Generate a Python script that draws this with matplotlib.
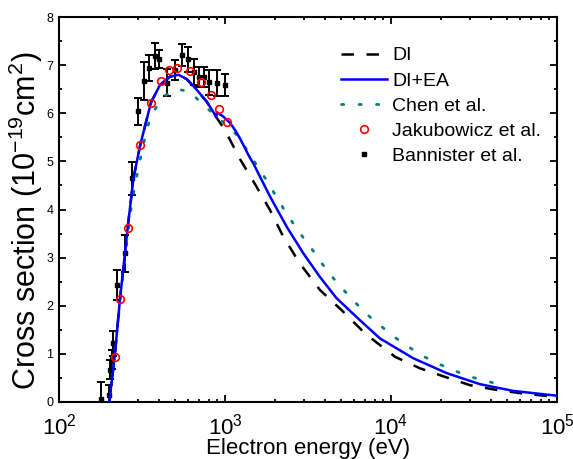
import matplotlib
matplotlib.use("Agg")
import matplotlib.pyplot as plt
from matplotlib.lines import Line2D
from matplotlib.ticker import LogLocator, MultipleLocator, NullFormatter

plt.rcParams['font.family'] = ['Liberation Sans', 'DejaVu Sans']
plt.rcParams['mathtext.fontset'] = 'custom'
plt.rcParams['mathtext.rm'] = 'Liberation Sans'
plt.rcParams['mathtext.it'] = 'Liberation Sans:italic'
plt.rcParams['mathtext.bf'] = 'Liberation Sans:bold'

# ---- data ----
di_ea_E = [201, 209, 217, 233, 259, 281, 308, 358, 406, 466, 524, 588, 675, 776, 860, 885,
           895, 977, 1072, 1150, 1230, 1400, 1480, 1867, 2355, 2963, 3728, 4690, 6500,
           8590, 13600, 21660, 34360, 54600, 100000]
di_ea_y = [0.0, 0.5, 0.97, 2.14, 3.61, 4.65, 5.33, 6.22, 6.59, 6.76, 6.80, 6.71, 6.49, 6.24, 6.00, 5.92,
           6.02, 5.93, 5.80, 5.65, 5.48, 5.10, 4.96, 4.27, 3.64, 3.09, 2.60, 2.16, 1.70,
           1.32, 0.91, 0.60, 0.37, 0.23, 0.13]

di_E = [201, 209, 217, 233, 259, 281, 308, 358, 406, 466, 524, 588, 675, 776, 860, 885,
        1000, 1230, 1545, 1867, 2240, 2822, 3728, 5000, 7000, 10570, 14950, 21660, 29900,
        43300, 61200, 86700, 100000]
di_y = [0.0, 0.5, 0.97, 2.14, 3.61, 4.65, 5.33, 6.22, 6.59, 6.76, 6.80, 6.71, 6.49, 6.24, 6.00, 5.92,
        5.65, 5.05, 4.48, 3.99, 3.44, 2.88, 2.33, 1.92, 1.42, 0.94, 0.70, 0.51, 0.35,
        0.25, 0.18, 0.125, 0.11]

chen_E = [200, 203, 226, 242, 268, 286, 305, 337, 361, 425, 512, 615, 740, 880, 1204, 1380,
          1610, 1824, 2090, 2395, 2822, 3260, 3830, 4500, 5400, 7000, 10180, 12580, 15440,
          19100, 23500, 28800, 35500, 44300]
chen_y = [0.0, 0.1, 1.64, 2.57, 3.89, 4.48, 4.96, 5.65, 5.97, 6.35, 6.50, 6.45, 6.17, 5.95, 5.52, 5.19,
          4.84, 4.55, 4.20, 3.87, 3.51, 3.23, 2.88, 2.57, 2.26, 1.85, 1.38, 1.16, 0.96,
          0.80, 0.67, 0.54, 0.46, 0.37]

jak_E = [217, 233, 259, 308, 358, 411, 461, 512, 615, 716, 823, 925, 1024]
jak_y = [0.94, 2.14, 3.62, 5.33, 6.22, 6.67, 6.89, 6.95, 6.87, 6.64, 6.37, 6.09, 5.81]

ban_E = [179, 201, 204, 208, 212, 223, 250, 274, 301, 325, 350, 377, 400, 449, 498, 549,
         596, 648, 697, 747, 801, 891, 1000]
ban_y = [0.06, 0.15, 0.67, 0.89, 1.22, 2.43, 3.09, 4.65, 6.04, 6.67, 6.94, 7.18, 7.12, 6.63, 6.90, 7.21,
         7.12, 6.85, 6.76, 6.76, 6.64, 6.63, 6.59]
ban_err = [0.35, 0.2, 0.2, 0.2, 0.26, 0.31, 0.39, 0.34, 0.28, 0.4, 0.28, 0.27, 0.19, 0.28, 0.21, 0.23,
           0.26, 0.27, 0.21, 0.21, 0.26, 0.27, 0.23]

labels = ["DI", "DI+EA", "Chen et al.", "Jakubowicz et al.", "Bannister et al."]

# ---- figure ----
fig = plt.figure(figsize=(5.73, 4.59), dpi=100)
ax = fig.add_axes([59/573, 1-402/459, (557-59)/573, (402-17)/459])

ax.errorbar(ban_E, ban_y, yerr=ban_err, fmt='s', color='black', ms=3, ecolor='black',
            elinewidth=1.4, capsize=3, capthick=1.4, zorder=3)
ax.plot(di_E, di_y, color='black', lw=1.8, dashes=(5, 5), zorder=4)
ax.plot(di_ea_E, di_ea_y, color='#0000ff', lw=1.8, zorder=5)
ax.plot(chen_E, chen_y, color='#008080', lw=2.0, dashes=(0.8, 5.5), dash_capstyle='round', zorder=4)
ax.plot(jak_E, jak_y, 'o', mfc='none', mec='red', ms=5.5, mew=1.2, zorder=6)

ax.set_xscale('log')
ax.set_xlim(100, 100000)
ax.set_ylim(0, 8)
ax.xaxis.set_major_locator(LogLocator(base=10, numticks=10))
ax.xaxis.set_minor_locator(LogLocator(base=10, subs=range(2, 10), numticks=20))
ax.xaxis.set_minor_formatter(NullFormatter())
ax.yaxis.set_major_locator(MultipleLocator(1))
ax.yaxis.set_minor_locator(MultipleLocator(0.5))

ax.tick_params(which='both', direction='in', top=True, right=True, width=1.3)
ax.tick_params(which='major', length=5)
ax.tick_params(which='minor', length=2.5)
ax.tick_params(axis='x', which='major', labelsize=16, pad=8)
ax.tick_params(axis='y', which='major', labelsize=9, pad=4)
for s in ax.spines.values():
    s.set_linewidth(1.5)

ax.set_xlabel("Electron energy (eV)", fontsize=16, labelpad=-1)
ax.set_ylabel("Cross section (10$^{-19}$cm$^{2}$)", fontsize=22)
ax.yaxis.set_label_coords(-0.028, 0.47)

handles = [
    Line2D([], [], color='black', lw=1.8, dashes=(5, 5)),
    Line2D([], [], color='#0000ff', lw=1.8),
    Line2D([], [], color='#008080', lw=2.0, dashes=(0.8, 5.5), dash_capstyle='round'),
    Line2D([], [], ls='none', marker='o', mfc='none', mec='red', ms=5.5, mew=1.2),
    Line2D([], [], ls='none', marker='s', color='black', ms=3),
]
fig.legend(handles, labels, loc='upper left', bbox_to_anchor=(331/573, 1-37/459),
           frameon=False, fontsize=14, borderpad=0, handlelength=2.36, handletextpad=0.3,
           labelspacing=0.39, numpoints=1)

fig.savefig("out.png", dpi=100)
